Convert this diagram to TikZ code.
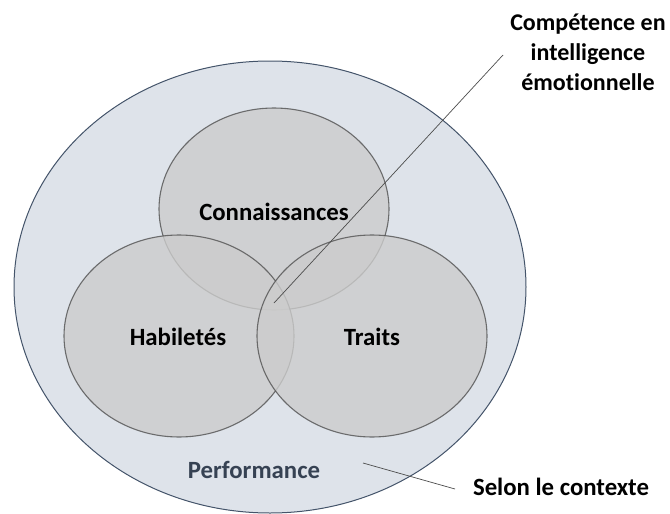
\documentclass[tikz,border=0pt]{standalone}
\usepackage{fontspec}
\setmainfont{Carlito}[Ligatures=NoCommon]
\usetikzlibrary{shapes.geometric}
\definecolor{outerfill}{HTML}{DEE3EA}
\definecolor{outerline}{HTML}{44546A}
\definecolor{circfill}{HTML}{CCCCCC}
\definecolor{circline}{HTML}{505050}
\definecolor{perfcol}{HTML}{364253}
\begin{document}
\begin{tikzpicture}[x=1pt,y=-1pt,
  outerell/.style={ellipse, draw=outerline, fill=outerfill, line width=1pt, inner sep=0pt, minimum width=512pt, minimum height=452pt},
  venn/.style={ellipse, draw=circline, fill=circfill, line width=1.1pt, inner sep=0pt, minimum width=230pt, minimum height=202pt, fill opacity=0.8, draw opacity=0.8},
  lbl/.style={font=\fontsize{24.8}{29}\selectfont\bfseries, text=black, inner sep=0pt},
  leader/.style={draw=black!70, line width=0.7pt}
]
\useasboundingbox (0,0) rectangle (670,514);
\node[outerell] (outer) at (270,287) {};
\node[venn] (conn) at (274,209) {};
\node[venn] (hab) at (179,336) {};
\node[venn] (trait) at (372,336) {};
\node[lbl] (tconn) at (274,212) {Connaissances};
\node[lbl] (thab) at (178,337) {Habiletés};
\node[lbl] (ttrait) at (372,337) {Traits};
\node[lbl, text=perfcol] (tperf) at (254,470) {Performance};
\node[lbl] (tselon) at (561,487) {Selon le contexte};
\node[lbl, font=\fontsize{24}{30}\selectfont\bfseries, align=center] (tce) at (588,52) {Compétence en\\intelligence\\émotionnelle};
\coordinate (ceA) at (503,55);
\coordinate (ceB) at (274,303);
\coordinate (seA) at (363,463);
\coordinate (seB) at (455,489);
\draw[leader] (ceA) -- (ceB);
\draw[leader] (seA) -- (seB);
\end{tikzpicture}
\end{document}
